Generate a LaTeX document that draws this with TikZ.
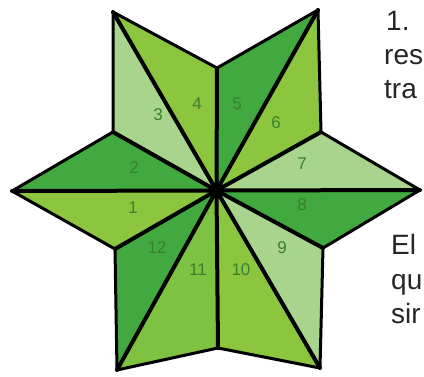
\documentclass[tikz,border=0pt]{standalone}
\usepackage{fontspec}
\setmainfont{Liberation Sans}
\definecolor{lime}{HTML}{8CC63F}
\definecolor{limeb}{HTML}{7EC242}
\definecolor{midg}{HTML}{41A940}
\definecolor{lightg}{HTML}{A9D48E}
\definecolor{lblg}{HTML}{3A7F2E}
\definecolor{txtg}{HTML}{262626}
\begin{document}
\begin{tikzpicture}[x=1pt,y=-1pt,
  spoke/.style={draw=black,line width=4pt,line cap=round},
  edge/.style={draw=black,line width=3pt,line join=round,line cap=round},
  lbl/.style={font=\fontsize{17}{17}\selectfont,text=lblg,inner sep=0},
  txt/.style={font=\fontsize{28}{33}\selectfont,text=txtg,anchor=base west,inner sep=0}]
\useasboundingbox (0,0) rectangle (424,376);
\clip (0,0) rectangle (424,376);
\fill[white] (0,0) rectangle (424,376);
% vertices
\coordinate (C) at (216.5,190.5);
\coordinate (T0) at (420,190);
\coordinate (T60) at (318,10);
\coordinate (T120) at (113,12);
\coordinate (T180) at (12,191);
\coordinate (T240) at (117,370);
\coordinate (T300) at (320,368);
\coordinate (I30) at (321,132);
\coordinate (I90) at (217,68);
\coordinate (I150) at (113,132);
\coordinate (I210) at (115,249);
\coordinate (I270) at (218,348);
\coordinate (I330) at (323,248);
% triangles
\fill[lime]   (C) -- (T180) -- (I210) -- cycle; % 1
\fill[midg]   (C) -- (I150) -- (T180) -- cycle; % 2
\fill[lightg] (C) -- (T120) -- (I150) -- cycle; % 3
\fill[lime]   (C) -- (I90) -- (T120) -- cycle;  % 4
\fill[midg]   (C) -- (T60) -- (I90) -- cycle;   % 5
\fill[lime]   (C) -- (I30) -- (T60) -- cycle;   % 6
\fill[lightg] (C) -- (T0) -- (I30) -- cycle;    % 7
\fill[midg]   (C) -- (I330) -- (T0) -- cycle;   % 8
\fill[lightg] (C) -- (T300) -- (I330) -- cycle; % 9
\fill[lime]   (C) -- (I270) -- (T300) -- cycle; % 10
\fill[limeb]  (C) -- (T240) -- (I270) -- cycle; % 11
\fill[midg]   (C) -- (I210) -- (T240) -- cycle; % 12
% outline
\path[edge] (T0) -- (I30) -- (T60) -- (I90) -- (T120) -- (I150) -- (T180) -- (I210) -- (T240) -- (I270) -- (T300) -- (I330) -- cycle;
% spokes
\foreach \p in {T0,T60,T120,T180,T240,T300,I30,I90,I150,I210,I270,I330}
  \path[spoke] (C) -- (\p);
\fill[black] (C) circle (8);
% labels
\node[lbl] (n1) at (133,208) {1};
\node[lbl] (n2) at (134,168) {2};
\node[lbl] (n3) at (158,115) {3};
\node[lbl] (n4) at (197,104) {4};
\node[lbl] (n5) at (237,104) {5};
\node[lbl] (n6) at (276,123) {6};
\node[lbl] (n7) at (302,164) {7};
\node[lbl] (n8) at (302,205) {8};
\node[lbl] (n9) at (282,248) {9};
\node[lbl] (n10) at (241,270) {10};
\node[lbl] (n11) at (198,270) {11};
\node[lbl] (n12) at (157,248) {12};
% text
\node[txt] (t1) at (386,30.5) {1.};
\node[txt] (t2) at (384,64) {res};
\node[txt] (t3) at (384,98) {tra};
\node[txt] (t4) at (391,254) {El};
\node[txt] (t5) at (391,289) {qu};
\node[txt] (t6) at (391,323) {sir};
\end{tikzpicture}
\end{document}
